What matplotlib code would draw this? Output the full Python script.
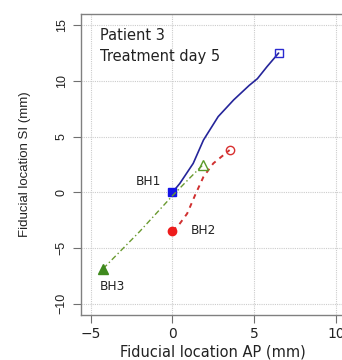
import matplotlib
matplotlib.use("Agg")
import matplotlib.pyplot as plt

plt.rcParams['font.family'] = ['DejaVu Sans']

# breath-hold traces (AP, SI in mm)
bh1_ap = [0.0, 0.45, 1.27, 1.9, 2.8, 3.75, 4.7, 5.2, 5.8, 6.5]
bh1_si = [0.0, 0.8, 2.6, 4.7, 6.8, 8.3, 9.6, 10.2, 11.3, 12.5]

bh2_ap = [0.0, 0.4, 0.9, 1.4, 1.9, 2.5, 3.0, 3.5]
bh2_si = [-3.45, -2.9, -1.9, -0.2, 1.4, 2.6, 3.2, 3.8]

bh3_ap = [-4.25, -2.0, 0.0, 1.0, 1.85]
bh3_si = [-6.85, -3.5, -0.3, 1.2, 2.45]

labels = ["BH1", "BH2", "BH3"]
label_pos = [(-1.5, 1.0), (1.9, -3.45), (-3.7, -8.45)]

xticks = [-5, 0, 5, 10]
yticks = [-10, -5, 0, 5, 10, 15]

fig = plt.figure(figsize=(3.42, 3.6), dpi=100)
ax = fig.add_axes([0.2368, 0.125, 0.7737, 0.836])

ax.set_xlim(-5.6, 10.6)
ax.set_ylim(-11, 16)
ax.set_xticks(xticks)
ax.set_yticks(yticks)
ax.grid(color='#cccccc', linestyle=(0, (1, 1)), linewidth=0.8)
ax.set_axisbelow(True)

# BH1 - blue solid
ax.plot(bh1_ap, bh1_si, color='#25259a', lw=1.2, solid_capstyle='round')
ax.plot(bh1_ap[0], bh1_si[0], 's', color='#1414e6', ms=6)
ax.plot(bh1_ap[-1], bh1_si[-1], 's', mfc='none', mec='#2a2ad0', ms=6, mew=1.0)

# BH2 - red dashed
ax.plot(bh2_ap, bh2_si, color='#d03030', lw=1.4, linestyle=(0, (2.5, 2.5)))
ax.plot(bh2_ap[0], bh2_si[0], 'o', color='#ee1c1c', ms=6)
ax.plot(bh2_ap[-1], bh2_si[-1], 'o', mfc='none', mec='#d83030', ms=6, mew=1.0)

# BH3 - green dot-dash
ax.plot(bh3_ap, bh3_si, color='#6a9a30', lw=1.0, linestyle=(0, (4, 2, 1, 2)))
ax.plot(bh3_ap[0], bh3_si[0], '^', color='#3f8a1e', ms=7)
ax.plot(bh3_ap[-1], bh3_si[-1], '^', mfc='none', mec='#5a9a2a', ms=7, mew=1.0)

for lab, (x, y) in zip(labels, label_pos):
    ax.text(x, y, lab, ha='center', va='center', fontsize=8.7, color='#222222')

ax.text(-4.43, 14.1, "Patient 3", ha='left', va='center', fontsize=10.5, color='#222222')
ax.text(-4.43, 12.15, "Treatment day 5", ha='left', va='center', fontsize=10.5, color='#222222')

for s in ax.spines.values():
    s.set_color('#808080')
    s.set_linewidth(1.0)

ax.tick_params(axis='both', length=5.5, width=0.8, color='#707070', labelcolor='#222222')
ax.tick_params(axis='x', labelsize=10, pad=3)
ax.tick_params(axis='y', pad=4)
for t in ax.get_yticklabels():
    t.set_rotation(90)
    t.set_va('center')
    t.set_fontfamily('Liberation Sans')
    t.set_fontsize(9)

ax.set_xlabel("Fiducial location AP (mm)", fontsize=10.5, color='#222222', labelpad=3)
ax.set_ylabel("Fiducial location SI (mm)", fontsize=9.5, family='Liberation Sans',
              color='#222222', labelpad=18)

fig.savefig("out.png", dpi=100)
